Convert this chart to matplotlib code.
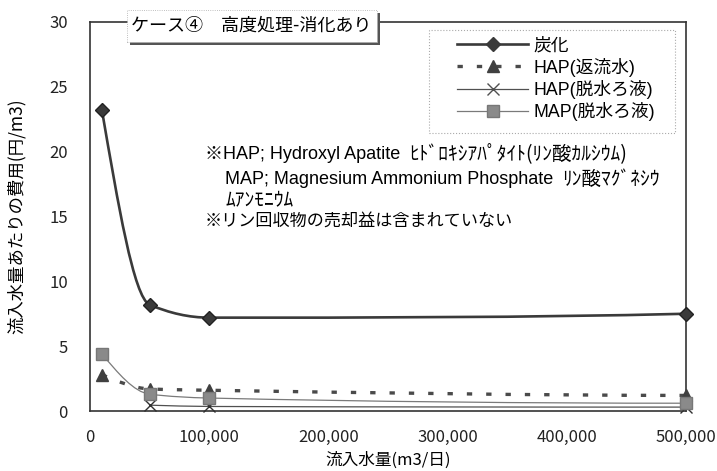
import numpy as np
import matplotlib
matplotlib.use("Agg")
import matplotlib.pyplot as plt
from matplotlib.path import Path
from matplotlib.patches import PathPatch, Rectangle
from matplotlib.lines import Line2D

plt.rcParams['font.family'] = ['Noto Sans CJK JP', 'DejaVu Sans']

# ---- data ----
x_flow = [10000, 50000, 100000, 500000]
carbon = [23.2, 8.2, 7.2, 7.5]
hap_return = [2.8, 1.7, 1.6, 1.2]
hap_dewater_x = [50000, 100000, 500000]
hap_dewater = [0.45, 0.35, 0.3]
map_dewater = [4.4, 1.3, 1.0, 0.6]

series_names = ['炭化', 'HAP(返流水)', 'HAP(脱水ろ液)', 'MAP(脱水ろ液)']
xticks = [0, 100000, 200000, 300000, 400000, 500000]
xtick_labels = ['0', '100,000', '200,000', '300,000', '400,000', '500,000']
yticks = [0, 5, 10, 15, 20, 25, 30]
title = 'ケース④\u3000高度処理-消化あり'
note_latin = ['※HAP; Hydroxyl Apatite', 'MAP; Magnesium Ammonium Phosphate', '', '']
note_jp = ['ﾋﾄﾞﾛｷｼｱﾊﾟﾀｲﾄ(ﾘﾝ酸ｶﾙｼｳﾑ)', 'ﾘﾝ酸ﾏｸﾞﾈｼｳ', 'ﾑｱﾝﾓﾆｳﾑ', '※リン回収物の売却益は含まれていない']
xlabel = '流入水量(m3/日)'
ylabel = '流入水量あたりの費用(円/m3)'


def pchip_path(xs, ys):
    xs = np.asarray(xs, float)
    ys = np.asarray(ys, float)
    n = len(xs)
    h = np.diff(xs)
    dl = np.diff(ys) / h
    d = np.zeros(n)
    for k in range(1, n - 1):
        if dl[k - 1] * dl[k] > 0:
            w1 = 2 * h[k] + h[k - 1]
            w2 = h[k] + 2 * h[k - 1]
            d[k] = (w1 + w2) / (w1 / dl[k - 1] + w2 / dl[k])

    def end(h0, h1, d0, d1):
        v = ((2 * h0 + h1) * d0 - h0 * d1) / (h0 + h1)
        if np.sign(v) != np.sign(d0):
            v = 0.0
        elif np.sign(d0) != np.sign(d1) and abs(v) > abs(3 * d0):
            v = 3 * d0
        return v

    if n > 2:
        d[0] = end(h[0], h[1], dl[0], dl[1])
        d[-1] = end(h[-1], h[-2], dl[-1], dl[-2])
    else:
        d[:] = dl[0]
    verts = [(xs[0], ys[0])]
    codes = [Path.MOVETO]
    for i in range(n - 1):
        verts += [(xs[i] + h[i] / 3, ys[i] + d[i] * h[i] / 3),
                  (xs[i + 1] - h[i] / 3, ys[i + 1] - d[i + 1] * h[i] / 3),
                  (xs[i + 1], ys[i + 1])]
        codes += [Path.CURVE4] * 3
    return Path(verts, codes)


fig = plt.figure(figsize=(7.17, 4.71), dpi=100)
ax = fig.add_axes([90 / 717, 1 - 411 / 471, 596 / 717, 389 / 471])
ax.set_xlim(0, 500000)
ax.set_ylim(0, 30)

dash = (0, (1.6, 4.2))
c_carbon = '#3a3a3a'
c_hapr = '#4a4a4a'
c_hapd = '#505050'
c_map = '#7a7a7a'

ax.add_patch(PathPatch(pchip_path(x_flow, carbon), fill=False, ec=c_carbon, lw=1.9, zorder=3))
ax.add_patch(PathPatch(pchip_path(x_flow, hap_return), fill=False, ec=c_hapr, lw=2.4, ls=dash, zorder=3))
ax.add_patch(PathPatch(pchip_path(hap_dewater_x, hap_dewater), fill=False, ec=c_hapd, lw=0.9, zorder=3))
ax.add_patch(PathPatch(pchip_path(x_flow, map_dewater), fill=False, ec=c_map, lw=0.9, zorder=3))

ax.plot(x_flow, carbon, ls='none', marker='D', ms=7, color=c_carbon, mec='#222222', zorder=5, clip_on=False)
ax.plot(x_flow, hap_return, ls='none', marker='^', ms=9, color='#404040', zorder=5, clip_on=False)
ax.plot(hap_dewater_x, hap_dewater, ls='none', marker='x', ms=9, mew=1.0, color='#303030', zorder=6, clip_on=False)
ax.plot(x_flow, map_dewater, ls='none', marker='s', ms=8, color='#8a8a8a', mec='#777777', zorder=6, clip_on=False)

ax.set_xticks(xticks)
ax.set_xticklabels(xtick_labels)
ax.set_yticks(yticks)
ax.tick_params(axis='x', labelsize=12, length=0, pad=13, colors='#222222')
ax.tick_params(axis='y', labelsize=12, length=0, pad=16, colors='#222222')
for s in ax.spines.values():
    s.set_color('#333333')
    s.set_linewidth(1.2)

ax.set_xlabel(xlabel, fontsize=12, labelpad=4)
ax.set_ylabel(ylabel, fontsize=12.5, labelpad=17)

# title box with shadow
fig.patches.append(Rectangle((130 / 717, 1 - 45 / 471), 250 / 717, 32 / 471, transform=fig.transFigure,
                             fc='#555555', ec='none', zorder=8))
fig.patches.append(Rectangle((127 / 717, 1 - 42 / 471), 250 / 717, 32 / 471, transform=fig.transFigure,
                             fc='white', ec='#aaaaaa', lw=0.6, ls=':', zorder=9))
fig.text(131 / 717, 1 - 26 / 471, title, fontsize=13, va='center', ha='left', zorder=10)

# legend (frame drawn separately)
ax.add_patch(Rectangle((429 / 717, 1 - 133 / 471), 246 / 717, 103 / 471, transform=fig.transFigure,
                       fc='white', ec='#aaaaaa', lw=0.8, ls=':', zorder=4, clip_on=False))
handles = [
    Line2D([], [], color=c_carbon, lw=1.9, marker='D', ms=7),
    Line2D([], [], color=c_hapr, lw=2.4, ls=dash, marker='^', ms=9, mfc='#404040', mec='#404040'),
    Line2D([], [], color=c_hapd, lw=0.9, marker='x', ms=9),
    Line2D([], [], color=c_map, lw=0.9, marker='s', ms=8, mfc='#8a8a8a', mec='#777777'),
]
leg = ax.legend(handles, series_names, loc='upper left', bbox_to_anchor=((452 - 90) / 596, 1 - 10 / 389),
                frameon=False, handlelength=4.0, handletextpad=0.3,
                labelspacing=0.18, borderpad=0.3, borderaxespad=0,
                prop={'family': ['Liberation Sans', 'Noto Sans CJK JP'], 'size': 12.8})
leg.set_zorder(6)

# notes
renderer = fig.canvas.get_renderer()
latin_x = [205, 225, 225, 205]
note_y = [155, 179, 200, 221]
jp_fs = [14, 14, 14, 12.3]
for lt, jp, lx, yy, fs in zip(note_latin, note_jp, latin_x, note_y, jp_fs):
    jx = lx
    if lt:
        t = fig.text(lx / 717, 1 - yy / 471, lt, fontsize=13, va='center', ha='left',
                     family=['Liberation Sans', 'Noto Sans CJK JP'])
        jx = t.get_window_extent(renderer).x1 + 9
    fig.text(jx / 717, 1 - yy / 471, jp, fontsize=fs, va='center', ha='left',
             family=['Noto Sans CJK JP', 'DejaVu Sans'])

fig.savefig('out.png', dpi=100)
